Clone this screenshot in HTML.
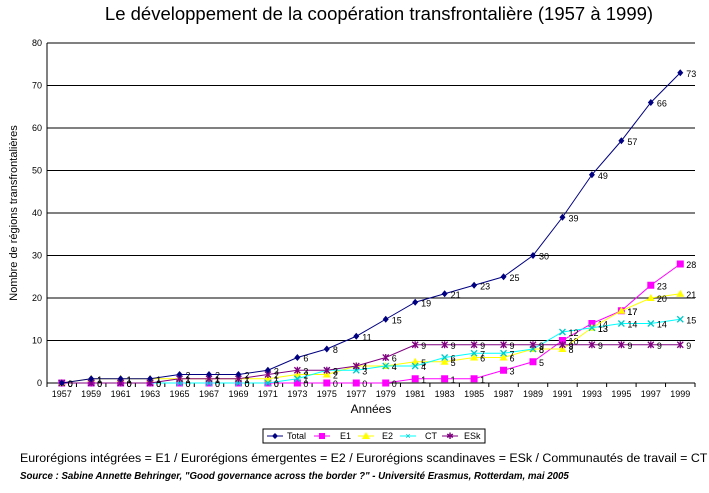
<!DOCTYPE html>
<html><head><meta charset="utf-8"><style>
body{margin:0;background:#fff;width:709px;height:488px;overflow:hidden;font-family:"Liberation Sans",Arial,sans-serif}
</style></head><body>
<svg id="s" width="709" height="488" xmlns="http://www.w3.org/2000/svg" font-family="Liberation Sans, Arial, sans-serif">
<text x="379" y="20" font-size="18.5" text-anchor="middle">Le développement de la coopération transfrontalière (1957 à 1999)</text>
<text transform="translate(17,213) rotate(-90)" font-size="11" text-anchor="middle">Nombre de régions transfrontalières</text>
<text x="371" y="413" font-size="12" text-anchor="middle">Années</text>
<g id="grid"></g>
<g id="data"></g>
<rect x="263" y="429" width="222" height="14" fill="#fff" stroke="#000" stroke-width="1"/>
<g font-size="9">
<line x1="267" y1="436" x2="283" y2="436" stroke="#000080"/><path d="M275 433 L278 436 L275 439 L272 436Z" fill="#000080"/><text x="287" y="439">Total</text>
<line x1="314" y1="436" x2="330" y2="436" stroke="#ff00ff"/><rect x="319" y="433" width="6" height="6" fill="#ff00ff"/><text x="340" y="439">E1</text>
<line x1="358" y1="436" x2="374" y2="436" stroke="#ffff00"/><path d="M366 432 L370 439 L362 439Z" fill="#ffff00"/><text x="382" y="439">E2</text>
<line x1="400" y1="436" x2="416" y2="436" stroke="#00ffff"/><text x="408" y="439" font-size="9" fill="#00c0c0" text-anchor="middle">×</text><text x="425" y="439">CT</text>
<line x1="442" y1="436" x2="458" y2="436" stroke="#800080"/><text x="450" y="439" font-size="9" fill="#800080" text-anchor="middle">✱</text><text x="464" y="439">ESk</text>
</g>
<text x="20" y="462" font-size="12.4">Eurorégions intégrées = E1 / Eurorégions émergentes = E2 / Eurorégions scandinaves = ESk / Communautés de travail = CT</text>
<text x="20" y="479" font-size="9.7" font-style="italic" font-weight="bold">Source : Sabine Annette Behringer, "Good governance across the border ?" - Université Erasmus, Rotterdam, mai 2005</text>
</svg>
<script>
var ns="http://www.w3.org/2000/svg",g=document.getElementById('grid'),d=document.getElementById('data');
function el(p,t,a,txt){var e=document.createElementNS(ns,t);for(var k in a)e.setAttribute(k,a[k]);if(txt!==undefined)e.textContent=txt;p.appendChild(e);return e;}
var L=47,R=695,T=43,B=383,W=(R-L)/22;
function X(i){return L+W*(i+0.5)}function Y(v){return B-v*4.25}
for(var v=0;v<=80;v+=10){el(g,'line',{x1:L,x2:R,y1:Y(v),y2:Y(v),stroke:'#000','stroke-width':1});el(g,'text',{x:L-5,y:Y(v)+3,'font-size':9,'text-anchor':'end'},v);}
el(g,'line',{x1:L,x2:L,y1:T,y2:B,stroke:'#000'});
for(var i=0;i<=22;i++)el(g,'line',{x1:L+W*i,x2:L+W*i,y1:B,y2:B+4,stroke:'#000'});
for(var i=0;i<22;i++)el(g,'text',{x:X(i),y:B+14,'font-size':9,'text-anchor':'middle'},1957+2*i);
var S=[
['#ff00ff','sq',[0,0,0,0,0,0,0,0,0,0,0,0,1,1,1,3,5,10,14,17,23,28]],
['#ffff00','tr',[0,1,1,1,1,1,1,1,2,2,4,4,5,5,6,6,8,8,13,17,20,21]],
['#00ffff','x',[0,0,0,0,0,0,0,0,1,3,3,4,4,6,7,7,8,12,13,14,14,15]],
['#800080','st',[0,0,0,0,1,1,1,2,3,3,4,6,9,9,9,9,9,9,9,9,9,9]],
['#000080','di',[0,1,1,1,2,2,2,3,6,8,11,15,19,21,23,25,30,39,49,57,66,73]]];
S.forEach(function(s){var c=s[0],a=s[2];
el(d,'polyline',{points:a.map(function(v,i){return X(i)+','+Y(v)}).join(' '),fill:'none',stroke:c,'stroke-width':1});
a.forEach(function(v,i){var x=X(i),y=Y(v);
if(s[1]=='sq')el(d,'rect',{x:x-3.5,y:y-3.5,width:7,height:7,fill:c});
else if(s[1]=='tr')el(d,'path',{d:'M'+x+' '+(y-4)+'L'+(x+4)+' '+(y+3)+'L'+(x-4)+' '+(y+3)+'Z',fill:c});
else if(s[1]=='di')el(d,'path',{d:'M'+x+' '+(y-3.5)+'L'+(x+3)+' '+y+'L'+x+' '+(y+3.5)+'L'+(x-3)+' '+y+'Z',fill:c});
else{var col=s[1]=='x'?'#00c8c8':c;el(d,'path',{d:'M'+(x-3)+' '+(y-3)+'L'+(x+3)+' '+(y+3)+'M'+(x+3)+' '+(y-3)+'L'+(x-3)+' '+(y+3)+(s[1]=='st'?'M'+x+' '+(y-3.5)+'L'+x+' '+(y+3.5):''),stroke:col,'stroke-width':1.3});}
el(d,'text',{x:x+6,y:y+4,'font-size':9,fill:'#000'},v);
});});
</script>
</body></html>
